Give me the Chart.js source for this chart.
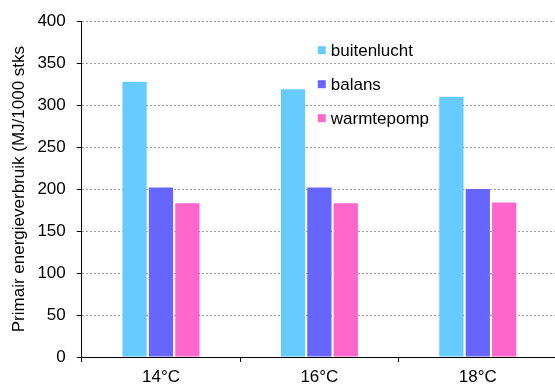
<!DOCTYPE html>
<html>
<head>
<meta charset="utf-8">
<script src="https://cdn.jsdelivr.net/npm/chart.js@4/dist/chart.umd.min.js"></script>
<style>
  html, body { margin: 0; padding: 0; background: #fff; overflow: hidden; }
  #wrap { width: 557px; height: 385px; }
</style>
</head>
<body>
<div id="wrap"><canvas id="c" width="557" height="385"></canvas></div>
<script>
// Primary energy use per 1000 pieces at three set temperatures
const categories = ['14°C', '16°C', '18°C'];
const seriesNames = ['buitenlucht', 'balans', 'warmtepomp'];
const buitenlucht = [328, 319, 310];
const balans = [202, 202, 200];
const warmtepomp = [183, 183, 184];
const yTicks = [0, 50, 100, 150, 200, 250, 300, 350, 400];

const colors = ['#66CCFF', '#6666FF', '#FF66CC'];
const FONT = 'Liberation Sans, Arial, sans-serif';

// Vertical legend drawn inside the plot area
const innerLegend = {
  id: 'innerLegend',
  afterDraw(chart) {
    const { ctx, chartArea } = chart;
    const x0 = chartArea.left + 236;
    const y0 = chartArea.top + 29;
    ctx.save();
    ctx.font = '17px ' + FONT;
    ctx.textBaseline = 'middle';
    chart.data.datasets.forEach((ds, i) => {
      const y = y0 + i * 34;
      ctx.fillStyle = ds.backgroundColor;
      ctx.fillRect(x0, y - 4, 8, 8);
      ctx.fillStyle = '#000';
      ctx.fillText(ds.label, x0 + 13, y + 1);
    });
    ctx.restore();
  }
};

new Chart(document.getElementById('c'), {
  type: 'bar',
  data: {
    labels: categories,
    datasets: [
      { label: seriesNames[0], data: buitenlucht, backgroundColor: colors[0] },
      { label: seriesNames[1], data: balans, backgroundColor: colors[1] },
      { label: seriesNames[2], data: warmtepomp, backgroundColor: colors[2] }
    ]
  },
  options: {
    responsive: false,
    animation: false,
    layout: { padding: { top: 21, left: 6, right: 0, bottom: -8 } },
    datasets: { bar: { categoryPercentage: 0.5, barPercentage: 0.92 } },
    plugins: { legend: { display: false }, tooltip: { enabled: false } },
    scales: {
      x: {
        grid: { display: true, drawOnChartArea: false, offset: true, tickLength: 5, tickColor: '#000' },
        border: { display: true, color: '#000', width: 1 },
        ticks: { color: '#000', font: { family: FONT, size: 17, lineHeight: 1 }, padding: 7 }
      },
      y: {
        min: 0, max: 400,
        afterBuildTicks(axis) { axis.ticks = yTicks.map(v => ({ value: v })); },
        grid: { color: '#a0a0a0', tickColor: '#000', tickLength: 5, lineWidth: 1 },
        border: { display: true, color: '#000', width: 1, dash: [2, 2] },
        ticks: { color: '#000', font: { family: FONT, size: 17 }, padding: 11 },
        title: {
          display: true,
          text: 'Primair energieverbruik (MJ/1000 stks',
          color: '#000',
          font: { family: FONT, size: 17 },
          padding: { top: 3, bottom: -3 }
        }
      }
    }
  },
  plugins: [innerLegend]
});
</script>
</body>
</html>
